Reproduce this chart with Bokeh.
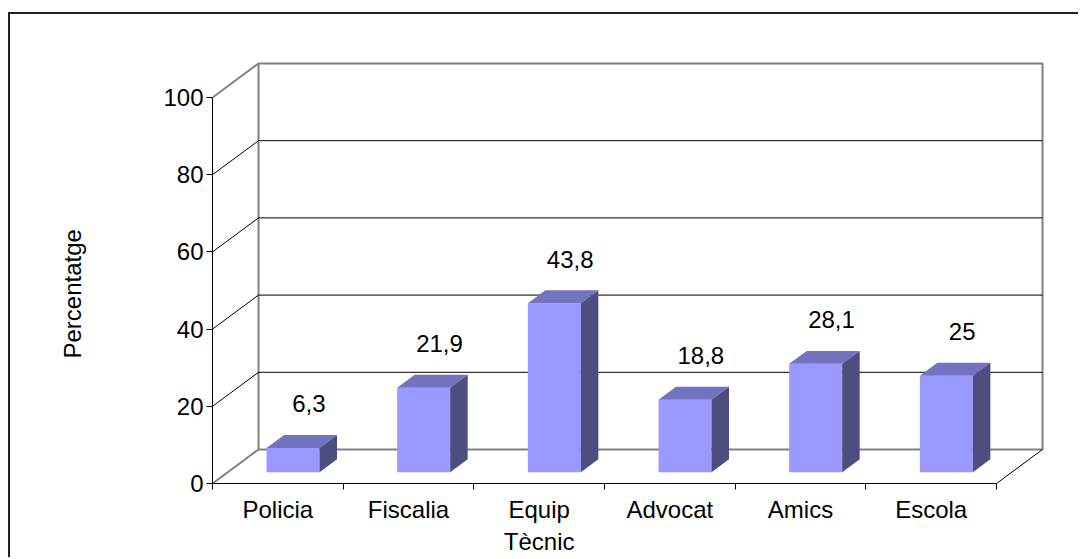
from bokeh.plotting import figure
from bokeh.models import Range1d, FixedTicker, ColumnDataSource, Title
from bokeh.core.properties import value
from bokeh.embed import file_html
from bokeh.resources import INLINE

# ---- data ----
categories = ["Policia", "Fiscalia", "Equip Tècnic", "Advocat", "Amics", "Escola"]
category_labels = ["Policia", "Fiscalia", "Equip\nTècnic", "Advocat", "Amics", "Escola"]
values = [6.3, 21.9, 43.8, 18.8, 28.1, 25]
value_labels = ["6,3", "21,9", "43,8", "18,8", "28,1", "25"]
y_ticks = [0, 20, 40, 60, 80, 100]
y_title = "Percentatge"

# ---- geometry / style constants ----
PX_X = 130.67          # px per category
PX_Y = 3.86            # px per percent
FRAME_W, FRAME_H = 838, 453
WALL_DX = 46 / PX_X    # depth offset of back wall (data units)
WALL_DY = 34 / PX_Y
BAR_W = 53 / PX_X
BAR_F0, BAR_F1 = 0.33, 0.71
LABEL_DX = 31 / PX_X
LABEL_DY = 44 / PX_Y
FONT = "Liberation Sans"
FS = "24px"
FRONT, TOP, SIDE = "#9999FF", "#7373BF", "#4D4D80"
WALL = "#808080"

n = len(categories)
ymax = y_ticks[-1]

p = figure(width=1070, height=545,
           x_range=Range1d(0, FRAME_W / PX_X), y_range=Range1d(0, FRAME_H / PX_Y),
           output_backend="svg", toolbar_location=None,
           min_border_left=202, min_border_right=30, min_border_top=16, min_border_bottom=76)
p.margin = (12, 0, 0, 8)
p.styles = {"border-top": "2px solid #222222", "border-left": "2px solid #222222"}
p.xgrid.visible = False
p.ygrid.visible = False
p.outline_line_color = None
p.background_fill_color = "white"
p.border_fill_color = "white"

# ---- axes ----
yax = p.yaxis[0]
yax.ticker = FixedTicker(ticks=y_ticks)
yax.bounds = (0, ymax)
yax.axis_line_color = "black"
yax.major_tick_line_color = "black"
yax.major_tick_out = 6
yax.major_tick_in = 0
yax.minor_tick_line_color = None
yax.major_label_text_font = FONT
yax.major_label_text_font_size = FS
yax.major_label_text_color = "black"
yax.major_label_standoff = 3
# blank axis label used only as spacing between tick labels and the side title
yax.axis_label = " "
yax.axis_label_text_font_size = "1px"
yax.axis_label_standoff = 22

xax = p.xaxis[0]
centers = [i + 0.5 for i in range(n)]
xax.ticker = FixedTicker(ticks=centers, minor_ticks=list(range(n + 1)))
xax.major_label_overrides = {c: lab for c, lab in zip(centers, category_labels)}
xax.bounds = (0, n)
xax.axis_line_color = "black"
xax.major_tick_line_color = None
xax.major_tick_out = 6
xax.major_tick_in = 0
xax.minor_tick_line_color = "black"
xax.minor_tick_out = 6
xax.minor_tick_in = 0
xax.major_label_text_font = FONT
xax.major_label_text_font_size = FS
xax.major_label_text_color = "black"
xax.major_label_standoff = 6

# ---- y title ----
p.add_layout(Title(text=y_title, align="left", offset=125, standoff=94, vertical_align="top",
                   text_font=FONT, text_font_size=FS, text_font_style="normal",
                   text_color="black"), "left")

# ---- walls ----
p.line([WALL_DX, n + WALL_DX, n + WALL_DX, WALL_DX, WALL_DX],
       [WALL_DY, WALL_DY, ymax + WALL_DY, ymax + WALL_DY, WALL_DY],
       line_color=WALL, line_width=2)
p.multi_line([[0, WALL_DX], [0, WALL_DX]], [[0, WALL_DY], [ymax, ymax + WALL_DY]],
             line_color=WALL, line_width=2)
inner = y_ticks[1:-1]
p.multi_line([[0, WALL_DX, n + WALL_DX] for _ in inner],
             [[t, t + WALL_DY, t + WALL_DY] for t in inner],
             line_color="black", line_width=1)
p.line([n, n + WALL_DX], [0, WALL_DY], line_color="black", line_width=1)

# ---- bars ----
dx0, dy0 = BAR_F0 * WALL_DX, BAR_F0 * WALL_DY
ddx, ddy = (BAR_F1 - BAR_F0) * WALL_DX, (BAR_F1 - BAR_F0) * WALL_DY
left = [c + dx0 - BAR_W / 2 for c in centers]
right = [c + dx0 + BAR_W / 2 for c in centers]
bottom = [dy0] * n
top = [v + dy0 for v in values]

p.quad(left=left, right=right, bottom=bottom, top=top, fill_color=FRONT, line_color=None)
p.patches([[l, r, r + ddx, l + ddx] for l, r in zip(left, right)],
          [[t, t, t + ddy, t + ddy] for t in top],
          fill_color=TOP, line_color=None)
p.patches([[r, r + ddx, r + ddx, r] for r in right],
          [[b, b + ddy, t + ddy, t] for b, t in zip(bottom, top)],
          fill_color=SIDE, line_color=None)

src = ColumnDataSource(dict(x=[c + LABEL_DX for c in centers],
                            y=[t + LABEL_DY for t in top],
                            text=value_labels))
p.text(x="x", y="y", text="text", source=src, text_font=value(FONT), text_font_size=FS,
       text_align="center", text_baseline="middle", text_color="black")

open("out.html", "w").write(file_html(p, INLINE))
